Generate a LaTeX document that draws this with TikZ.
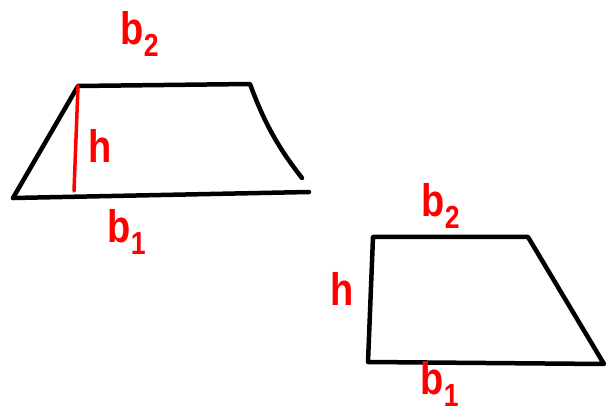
\documentclass[tikz,border=0pt]{standalone}
\usepackage{fontspec}
\setmainfont{Liberation Sans}
\begin{document}
\begin{tikzpicture}[x=1pt,y=-1pt,
  edge/.style={line width=4.5pt,black,line cap=round,line join=round},
  redline/.style={line width=3.5pt,red,line cap=round},
  lbl/.style={red,font=\bfseries\fontsize{38}{38}\selectfont,inner sep=0pt,yscale=1.2}]
\useasboundingbox (0,0) rectangle (616,414);
% left trapezoid
\coordinate (LTL) at (78,86);
\coordinate (LTR) at (250,84);
\coordinate (LRE) at (302,178);
\coordinate (LBL) at (13,198);
\coordinate (LBR) at (309,192);
\coordinate (LHB) at (74,191);
\draw[edge] (LBL) -- (LTL) -- (LTR) .. controls (265,125) and (280,150) .. (LRE);
\draw[edge] (LBL) -- (LBR);
\draw[redline] (LTL) -- (LHB);
\node[lbl] (lb2) at (140,34) {b\textsubscript{2}};
\node[lbl] (lh) at (100,146) {h};
\node[lbl] (lb1) at (127,232) {b\textsubscript{1}};
% right trapezoid
\coordinate (RTL) at (373,237);
\coordinate (RTR) at (528,237);
\coordinate (RBR) at (604,364);
\coordinate (RBL) at (368,362);
\draw[edge] (RTL) -- (RTR) -- (RBR) -- (RBL) -- cycle;
\node[lbl] (rb2) at (441,206) {b\textsubscript{2}};
\node[lbl] (rh) at (342,289) {h};
\node[lbl] (rb1) at (440,384) {b\textsubscript{1}};
\end{tikzpicture}
\end{document}
